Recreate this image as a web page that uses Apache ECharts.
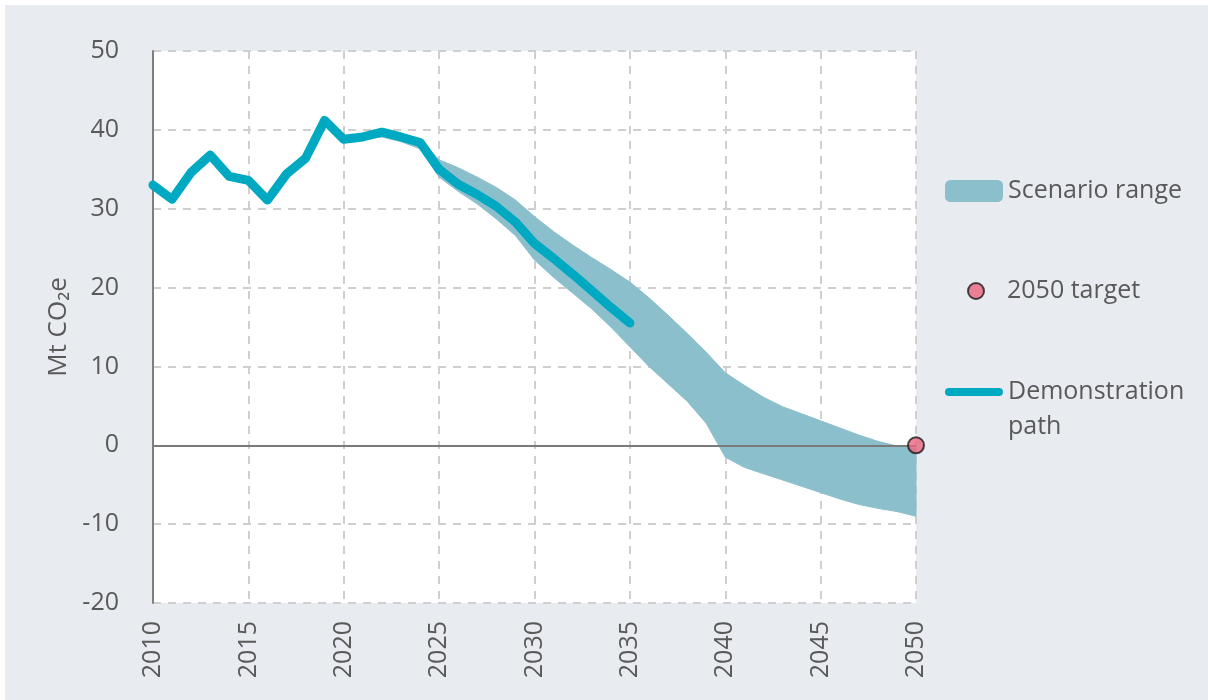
<!DOCTYPE html>
<html>
<head>
<meta charset="utf-8">
<script src="https://cdn.jsdelivr.net/npm/echarts@6/dist/echarts.min.js"></script>
<style>
  html, body { margin: 0; padding: 0; background: #ffffff; }
  #chart { position: absolute; left: 5px; top: 5px; width: 1203px; height: 695px; }
</style>
</head>
<body>
<div id="chart"></div>
<script>
const histYears  = [2010, 2011, 2012, 2013, 2014, 2015, 2016, 2017, 2018, 2019, 2020, 2021, 2022, 2023, 2024, 2025];
const histValues = [33.0, 31.2, 34.6, 36.8, 34.1, 33.6, 31.1, 34.4, 36.4, 41.2, 38.8, 39.1, 39.7, 39.1, 38.4, 35.0];

const pathYears  = [2025, 2026, 2027, 2028, 2029, 2030, 2031, 2032, 2033, 2034, 2035];
const pathValues = [35.0, 33.1, 31.8, 30.3, 28.3, 25.6, 23.7, 21.7, 19.6, 17.5, 15.5];

const bandYears = [2021, 2022, 2023, 2024, 2025, 2026, 2027, 2028, 2029, 2030,
                   2031, 2032, 2033, 2034, 2035, 2036, 2037, 2038, 2039, 2040,
                   2041, 2042, 2043, 2044, 2045, 2046, 2047, 2048, 2049, 2050];
const bandUpper = [39.3, 40.0, 39.4, 38.7, 36.2, 35.2, 34.0, 32.7, 31.1, 29.0,
                   27.1, 25.4, 23.8, 22.3, 20.7, 18.7, 16.5, 14.2, 11.8, 9.2,
                   7.6, 6.1, 4.9, 4.0, 3.1, 2.2, 1.3, 0.5, -0.1, -0.4];
const bandLower = [38.8, 39.1, 38.5, 37.6, 34.0, 32.2, 30.6, 28.7, 26.6, 23.5,
                   21.3, 19.3, 17.3, 15.0, 12.5, 10.0, 7.8, 5.6, 2.8, -1.5,
                   -2.8, -3.6, -4.4, -5.2, -6.0, -6.8, -7.5, -8.0, -8.4, -9.0];

const targetYear = 2050;
const targetValue = 0;

const xTicks = [2010, 2015, 2020, 2025, 2030, 2035, 2040, 2045, 2050];
const yTicks = [-20, -10, 0, 10, 20, 30, 40, 50];

const TEXT = '#595959';
const FONT = 'Open Sans';
const FS = 25;
const BAND = '#8bbfcb';
const LINE = '#00a9c2';
const TARGET = '#e8657d';

const pairs = (xs, ys) => xs.map((x, i) => [x, ys[i]]);

const chart = echarts.init(document.getElementById('chart'));
chart.setOption({
  backgroundColor: '#e8ecf0',
  animation: false,
  textStyle: { fontFamily: FONT, color: TEXT },
  grid: {
    left: 148, top: 46, right: 292, bottom: 97,
    show: true, backgroundColor: '#ffffff', borderWidth: 0
  },
  xAxis: {
    type: 'value',
    min: xTicks[0], max: xTicks[xTicks.length - 1], interval: 5,
    axisLine: { show: false },
    axisTick: { show: false },
    axisLabel: { rotate: 90, margin: 18, fontSize: FS, color: TEXT, fontFamily: FONT,
                 formatter: v => String(v) },
    splitLine: { show: true, lineStyle: { color: '#cfcfcf', width: 2, type: [8, 7] } }
  },
  yAxis: {
    type: 'value',
    min: yTicks[0], max: yTicks[yTicks.length - 1], interval: 10,
    name: 'Mt CO\u2082e',
    nameLocation: 'middle',
    nameGap: 80,
    nameRotate: 90,
    nameTextStyle: { fontSize: 26, color: TEXT, fontFamily: FONT },
    axisLine: { show: true, lineStyle: { color: '#7f7f7f', width: 2 } },
    axisTick: { show: false },
    axisLabel: { margin: 34, fontSize: FS, color: TEXT, fontFamily: FONT },
    splitLine: { show: true, lineStyle: { color: '#cfcfcf', width: 2, type: [8, 7] } }
  },
  legend: [
    {
      orient: 'vertical', left: 940, top: 173.5, padding: 0,
      itemWidth: 58, itemHeight: 22, itemGap: 0,
      textStyle: { fontSize: FS, color: TEXT, fontFamily: FONT },
      data: [{ name: 'Scenario range', icon: 'roundRect', itemStyle: { color: BAND } }]
    },
    {
      orient: 'vertical', left: 962, top: 273.5, padding: 0,
      itemWidth: 16, itemHeight: 16, itemGap: 0,
      formatter: name => '{pad|}' + name,
      textStyle: { fontSize: FS, color: TEXT, fontFamily: FONT,
                   rich: { pad: { width: 18 } } },
      data: [{ name: '2050 target', icon: 'circle',
               itemStyle: { color: TARGET, borderColor: '#1a1a1a', borderWidth: 2 } }]
    },
    {
      orient: 'vertical', left: 940, top: 369, padding: 0,
      itemWidth: 58, itemHeight: 42, itemGap: 0,
      formatter: () => 'Demonstration\npath',
      textStyle: { fontSize: FS, color: TEXT, fontFamily: FONT, lineHeight: 35 },
      data: [{ name: 'Demonstration path',
               icon: 'path://M4,0 H54 A4,4 0 0 1 54,8 H4 A4,4 0 0 1 4,0 Z M0,41.9 L0.01,42 L0,42 Z',
               itemStyle: { color: LINE } }]
    }
  ],
  series: [
    {
      name: 'Scenario range',
      type: 'custom',
      data: bandYears.map((y, i) => [y, bandLower[i], bandUpper[i]]),
      encode: { x: 0, y: [1, 2] },
      itemStyle: { color: BAND },
      silent: true,
      z: 1,
      renderItem: (params, api) => {
        if (params.dataIndex !== 0) return null;
        const pts = [];
        for (let i = 0; i < bandYears.length; i++) pts.push(api.coord([bandYears[i], bandUpper[i]]));
        for (let i = bandYears.length - 1; i >= 0; i--) pts.push(api.coord([bandYears[i], bandLower[i]]));
        return {
          type: 'polygon',
          shape: { points: pts },
          style: { fill: BAND, stroke: BAND, lineWidth: 1 }
        };
      }
    },
    {
      name: 'Historical',
      type: 'line',
      data: pairs(histYears, histValues),
      symbol: 'none',
      itemStyle: { color: LINE },
      lineStyle: { color: LINE, width: 9, cap: 'round', join: 'round' },
      z: 3
    },
    {
      name: 'Demonstration path',
      type: 'line',
      data: pairs(pathYears, pathValues),
      symbol: 'none',
      itemStyle: { color: LINE },
      lineStyle: { color: LINE, width: 9, cap: 'round', join: 'round' },
      markLine: {
        silent: true,
        symbol: 'none',
        label: { show: false },
        lineStyle: { color: '#7a7a7a', width: 2, type: 'solid' },
        data: [{ yAxis: 0 }]
      },
      z: 3
    },
    {
      name: '2050 target',
      type: 'scatter',
      data: [[targetYear, targetValue]],
      symbol: 'circle',
      symbolSize: 16,
      itemStyle: { color: TARGET, borderColor: '#1a1a1a', borderWidth: 2 },
      z: 5
    }
  ]
});
</script>
</body>
</html>
